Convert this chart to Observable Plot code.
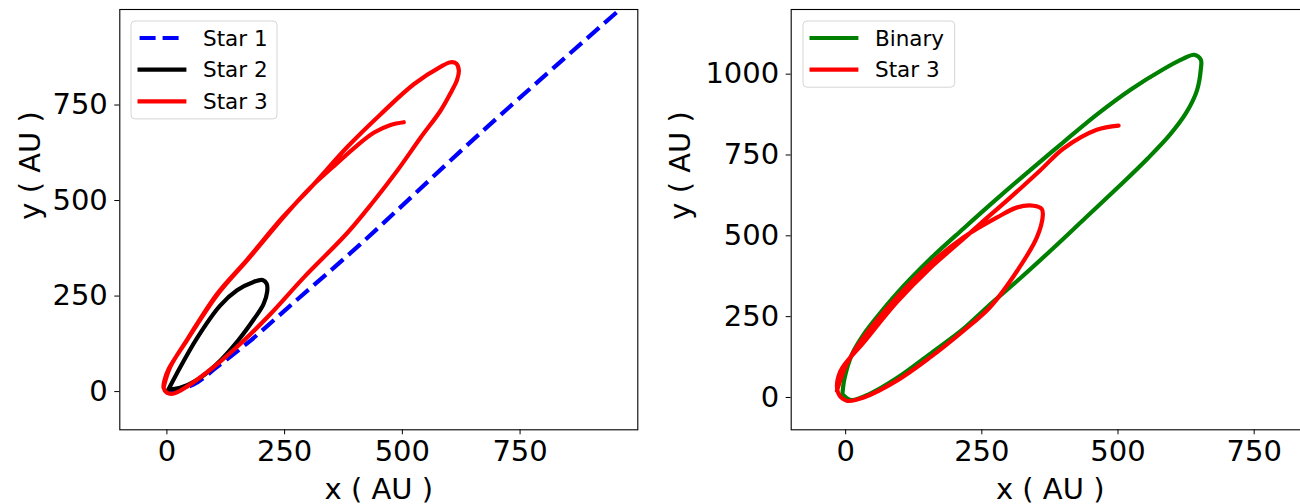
<!DOCTYPE html>
<html>
<head>
<meta charset="utf-8">
<script src="https://cdn.jsdelivr.net/npm/d3@7"></script>
<script src="https://cdn.jsdelivr.net/npm/@observablehq/plot@0.6"></script>
<style>
  html, body { margin: 0; padding: 0; background: #fff; }
  body { width: 1300px; height: 504px; overflow: hidden; position: relative; font-family: "DejaVu Sans", sans-serif; }
  .panel { position: absolute; top: 0; }
  .panel svg { max-width: none !important; }
  .panel svg g[aria-label*="axis"] text { font-size: 29px !important; }
  .legend { position: absolute; }
</style>
</head>
<body>
<div id="left" class="panel" style="left:0px; width:650px"></div>
<div id="right" class="panel" style="left:650px; width:670px"></div>
<script>
// ---------- data (AU) ----------
// Left panel
const star1X = [0, 56, 106, 177, 262, 411, 667, 962];
const star1Y = [0, 18, 64, 133, 225, 386, 678, 1000];

const star2X = [3, 20, 64, 113, 149, 184, 203, 212, 213, 205, 185, 152, 106, 64, 28, 3];
const star2Y = [5, 45, 140, 225, 265, 287, 292, 282, 262, 228, 190, 135, 72, 30, 10, 5];

const star3AX = [-7, 7, 45, 106, 170, 245, 310, 383, 454, 525, 581, 603, 615, 620, 616, 604, 581, 539, 489, 437, 383, 291, 220, 163, 100, 45, 15, 0, -7, -5, 4, 42, 110, 175, 250, 305, 350, 400, 440, 475, 503];
const star3AY = [11, 64, 140, 255, 345, 455, 540, 640, 726, 805, 850, 862, 858, 840, 815, 785, 735, 665, 578, 495, 415, 299, 203, 133, 65, 15, -5, -3, 10, 30, 60, 133, 258, 350, 460, 534, 585, 640, 678, 698, 705];

// Right panel
const binaryX = [-6, -2, 12, 33, 57, 94, 155, 216, 278, 340, 400, 461, 523, 584, 620, 640, 652, 652, 645, 625, 595, 555, 500, 440, 380, 320, 260, 216, 155, 94, 45, 10, -6];
const binaryY = [10, 60, 135, 195, 248, 322, 428, 522, 615, 705, 790, 875, 952, 1016, 1048, 1060, 1045, 1015, 950, 880, 812, 740, 650, 555, 460, 368, 280, 212, 135, 60, 12, -8, 10];

const star3BX = [-16, 2, 33, 94, 155, 216, 278, 315, 345, 360, 362, 351, 315, 265, 216, 155, 94, 33, 2, -14, -10, 33, 94, 155, 216, 247, 300, 357, 400, 461, 501];
const star3BY = [21, 103, 186, 310, 413, 495, 557, 588, 593, 583, 565, 495, 392, 279, 206, 124, 52, 0, -10, 15, 80, 170, 295, 400, 490, 537, 615, 702, 770, 828, 841];

// ticks and labels
const xTicks = [0, 250, 500, 750];
const yTicksLeft = [0, 250, 500, 750];
const yTicksRight = [0, 250, 500, 750, 1000];
const xLabel = "x ( AU )";
const yLabel = "y ( AU )";

const legendLeft = [
  {name: "Star 1", color: "#0000ff", dash: "16,7"},
  {name: "Star 2", color: "#000000", dash: null},
  {name: "Star 3", color: "#ff0000", dash: null}
];
const legendRight = [
  {name: "Binary", color: "#008000", dash: null},
  {name: "Star 3", color: "#ff0000", dash: null}
];

// ---------- drawing ----------
const LW = 4.2;
const FS = 29;

function series(X, Y, color, dash) {
  return Plot.line({length: X.length}, {
    x: X, y: Y, stroke: color, strokeWidth: LW,
    strokeDasharray: dash || undefined,
    strokeLinejoin: "round", strokeLinecap: dash ? "butt" : "round",
    curve: "catmull-rom", clip: true
  });
}

function labels(ylabDx) {
  return [
    Plot.text([xLabel], {text: d => d, frameAnchor: "bottom", lineAnchor: "bottom", dy: 69, fontSize: FS, fill: "black"}),
    Plot.text([yLabel], {text: d => d, frameAnchor: "left", rotate: -90, lineAnchor: "bottom", dx: ylabDx, fontSize: FS, fill: "black"})
  ];
}

const commonStyle = {fontFamily: "DejaVu Sans", fontSize: FS + "px", color: "black", background: "white", overflow: "visible", maxWidth: "none"};
const fmt = d => String(d);

const left = Plot.plot({
  width: 650, height: 504,
  marginLeft: 119.3, marginRight: 12.7, marginTop: 9, marginBottom: 74.7,
  style: commonStyle,
  x: {domain: [-100, 1000], ticks: xTicks, tickFormat: fmt, tickSize: 5, tickPadding: 6, label: null},
  y: {domain: [-100, 1000], ticks: yTicksLeft, tickFormat: fmt, tickSize: 5, tickPadding: 7, label: null},
  marks: [
    series(star1X, star1Y, "#0000ff", "16,7"),
    series(star2X, star2Y, "#000000"),
    series(star3AX, star3AY, "#ff0000"),
    Plot.frame({stroke: "black", strokeWidth: 1.1}),
    ...labels(-79.7)
  ]
});
document.getElementById("left").appendChild(left);

const right = Plot.plot({
  width: 670, height: 504,
  marginLeft: 140.7, marginRight: 11.3, marginTop: 9, marginBottom: 74.7,
  style: commonStyle,
  x: {domain: [-100, 851], ticks: xTicks, tickFormat: fmt, tickSize: 5, tickPadding: 6, label: null},
  y: {domain: [-100, 1200], ticks: yTicksRight, tickFormat: fmt, tickSize: 5, tickPadding: 7, label: null},
  marks: [
    series(binaryX, binaryY, "#008000"),
    series(star3BX, star3BY, "#ff0000"),
    Plot.frame({stroke: "black", strokeWidth: 1.1}),
    ...labels(-101.1)
  ]
});
document.getElementById("right").appendChild(right);

// ---------- legends (overlay, real text) ----------
function legend(items, left, top, width) {
  const rowH = 31.7, padTop = 17;
  const height = padTop + (items.length - 1) * rowH + 17.5;
  const svg = d3.select("body").append("svg")
    .attr("class", "legend")
    .attr("width", width + 2).attr("height", height + 2)
    .style("left", (left - 1) + "px").style("top", (top - 1) + "px");
  svg.append("rect")
    .attr("x", 1).attr("y", 1).attr("width", width).attr("height", height)
    .attr("rx", 4).attr("fill", "rgba(255,255,255,0.8)")
    .attr("stroke", "#d6d6d6").attr("stroke-width", 1);
  items.forEach((d, i) => {
    const cy = 1 + padTop + i * rowH;
    svg.append("line")
      .attr("x1", 1 + 8.6).attr("x2", 1 + 53.3).attr("y1", cy).attr("y2", cy)
      .attr("stroke", d.color).attr("stroke-width", LW)
      .attr("stroke-dasharray", d.dash)
      .attr("stroke-linecap", d.dash ? "butt" : "square");
    svg.append("text")
      .attr("x", 1 + 72).attr("y", cy).attr("dy", "0.36em")
      .attr("font-family", "DejaVu Sans").attr("font-size", 21.5)
      .attr("fill", "black").text(d.name);
  });
}
legend(legendLeft, 130.7, 20.7, 146);
legend(legendRight, 802.9, 20.7, 151.7);
</script>
</body>
</html>
